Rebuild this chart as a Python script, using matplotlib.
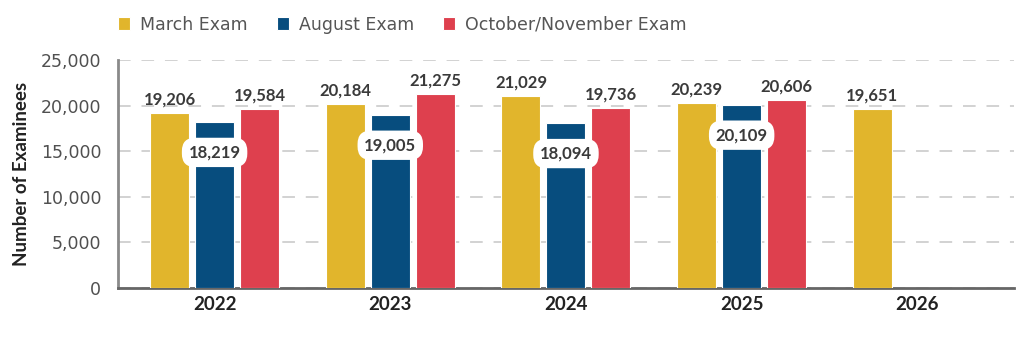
import numpy as np
import matplotlib
matplotlib.use('Agg')
import matplotlib.pyplot as plt

years = ['2022', '2023', '2024', '2025', '2026']
march = [19206, 20184, 21029, 20239, 19651]
august = [18219, 19005, 18094, 20109, np.nan]
octnov = [19584, 21275, 19736, 20606, np.nan]
series_names = ['March Exam', 'August Exam', 'October/November Exam']
colors = ['#E1B52C', '#074D7E', '#DE404E']

plt.rcParams['font.family'] = ['Lato', 'DejaVu Sans']

fig = plt.figure(figsize=(10.24, 3.41), dpi=100)
ax = fig.add_axes([0.1152, 0.1554, 0.875, 0.6686])

x = np.arange(len(years))
pitch = 0.256
width = 0.222
data = [march, august, octnov]
bars = []
for i, vals in enumerate(data):
    b = ax.bar(x + (i - 1) * pitch, vals, width, color=colors[i],
               edgecolor='white', linewidth=0.8, label=series_names[i], zorder=3)
    bars.append(b)

# value labels
for i, vals in enumerate(data):
    for xi, v in zip(x, vals):
        if np.isnan(v):
            continue
        xp = xi + (i - 1) * pitch
        txt = '{:,}'.format(int(v))
        if i == 1:
            ax.annotate(txt, (xp, v), xytext=(0, -22), textcoords='offset points',
                        ha='center', va='center', fontsize=12, fontweight='bold',
                        color='#3a3a3a', zorder=5,
                        bbox=dict(boxstyle='round,pad=0.4,rounding_size=0.8',
                                  fc='white', ec='none'))
        else:
            ax.annotate(txt, (xp, v), xytext=(0, 4), textcoords='offset points',
                        ha='center', va='bottom', fontsize=12, fontweight='bold',
                        color='#3a3a3a', zorder=5)

ax.set_xlim(-0.55, 4.55)
ax.set_ylim(0, 25000)
ax.set_yticks(np.arange(0, 25001, 5000))
ax.set_yticklabels(['{:,}'.format(v) for v in range(0, 25001, 5000)],
                   fontsize=12.5, color='#505050', family='DejaVu Sans')
ax.set_xticks(x)
ax.set_xticklabels(years, fontsize=13.5, fontweight='bold', color='#222222')
ax.tick_params(axis='both', length=0)
ax.tick_params(axis='y', pad=12)
ax.tick_params(axis='x', pad=6)

ax.grid(axis='y', color='#cfcfcf', linestyle=(0, (7, 6)), linewidth=1.3, zorder=0)
ax.set_axisbelow(True)
for s in ['top', 'right']:
    ax.spines[s].set_visible(False)
ax.spines['left'].set_color('#8a8a8a')
ax.spines['left'].set_linewidth(2)
ax.spines['bottom'].set_color('#666666')
ax.spines['bottom'].set_linewidth(2)

ax.set_ylabel('Number of Examinees', fontsize=13.5, fontweight='bold', color='#222222', labelpad=8)

fig.legend(handles=[b for b in bars], labels=series_names, loc='center left',
           bbox_to_anchor=(0.100, 0.928), ncol=3, frameon=False,
           prop={'family': 'DejaVu Sans', 'size': 12.5},
           handlelength=0.7, handleheight=0.7, handletextpad=0.55, columnspacing=1.7,
           labelcolor='#555555')

fig.savefig('out.png', dpi=100)
